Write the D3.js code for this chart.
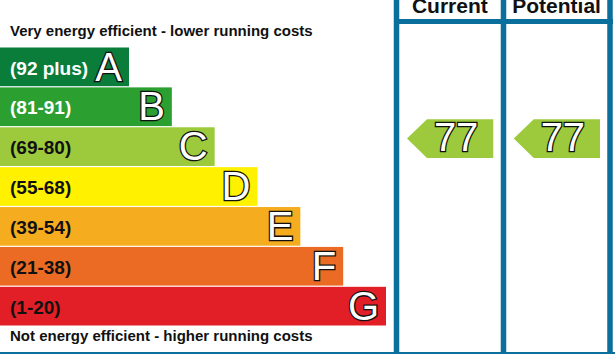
<!DOCTYPE html>
<html>
<head>
<meta charset="utf-8">
<script src="https://cdn.jsdelivr.net/npm/d3@7"></script>
<style>
  body { margin: 0; background: #fff; }
  svg { display: block; font-family: "Liberation Sans", Arial, sans-serif; }
</style>
</head>
<body>
<div id="chart"></div>
<script>
// band data
var bands      = ["A", "B", "C", "D", "E", "F", "G"];
var ranges     = ["(92 plus)", "(81-91)", "(69-80)", "(55-68)", "(39-54)", "(21-38)", "(1-20)"];
var bandMin    = [92, 81, 69, 55, 39, 21, 1];
var colors     = ["#0b7d3b", "#2b9f2f", "#9cca3c", "#fff100", "#f6ac1f", "#eb6b24", "#e21f26"];
var labelColor = ["#fff", "#fff", "#111", "#111", "#111", "#111", "#111"];
var columns    = ["Current", "Potential"];
var ratings    = [77, 77];

var width  = 615;
var height = 354;
var blue   = "#0b6f9c";

var svg = d3.select("#chart")
    .append("svg")
    .attr("width", width)
    .attr("height", height);

// scales
var y_scale = d3.scaleBand()
    .domain(bands)
    .range([47.5, 325.5])
    .paddingInner(0.03);

var w_scale = d3.scaleLinear()
    .domain([0, bands.length - 1])
    .range([129, 386]);

var col_scale = d3.scaleBand()
    .domain(columns)
    .range([396.5, 610])
    .paddingInner(0);

// top / bottom captions
svg.append("text")
    .attr("x", 10)
    .attr("y", 35.5)
    .style("font-size", "15px")
    .style("font-weight", "bold")
    .attr("fill", "#111")
    .text("Very energy efficient - lower running costs");

svg.append("text")
    .attr("x", 10)
    .attr("y", 340.5)
    .style("font-size", "15px")
    .style("font-weight", "bold")
    .attr("fill", "#111")
    .text("Not energy efficient - higher running costs");

// bars
var rows = svg.selectAll(".band")
    .data(bands)
    .enter()
    .append("g")
    .attr("class", "band");

rows.append("rect")
    .attr("x", 0)
    .attr("y", function(d) { return y_scale(d); })
    .attr("width", function(d, i) { return w_scale(i); })
    .attr("height", y_scale.bandwidth())
    .attr("fill", function(d, i) { return colors[i]; });

rows.append("text")
    .attr("x", 10)
    .attr("y", function(d) { return y_scale(d) + 27; })
    .style("font-size", "19px")
    .style("font-weight", "bold")
    .attr("fill", function(d, i) { return labelColor[i]; })
    .text(function(d, i) { return ranges[i]; });

rows.append("text")
    .attr("x", function(d, i) { return w_scale(i) - 7; })
    .attr("y", function(d) { return y_scale(d) + 33; })
    .attr("text-anchor", "end")
    .style("font-size", "40px")
    .attr("fill", "#fff")
    .attr("stroke", "#111")
    .attr("stroke-width", 2.6)
    .attr("paint-order", "stroke")
    .text(function(d) { return d; });

// rating arrows
function bandOf(r) {
    for (var i = 0; i < bandMin.length; i++) {
        if (r >= bandMin[i]) return i;
    }
    return bandMin.length - 1;
}

columns.forEach(function(c, k) {
    var bi = bandOf(ratings[k]);
    var top = y_scale(bands[bi]) - 8;
    var h = y_scale.bandwidth();
    var x0 = col_scale(c) + 10.5;
    var x1 = col_scale(c) + col_scale.bandwidth() - 10;
    var g = svg.append("g");
    g.append("path")
        .attr("d", d3.line()([
            [x0, top + h / 2],
            [x0 + 20, top],
            [x1, top],
            [x1, top + h],
            [x0 + 20, top + h]
        ]))
        .attr("fill", colors[bi]);
    g.append("text")
        .attr("x", (x0 + 20 + x1) / 2 - 4)
        .attr("y", top + 32)
        .attr("text-anchor", "middle")
        .style("font-size", "40px")
        .attr("fill", "#fff")
        .attr("stroke", "#111")
        .attr("stroke-width", 2.6)
        .attr("paint-order", "stroke")
        .text(ratings[k]);
});

// frame lines
var xs = [396.5, 503.5, 610];
svg.selectAll(".vline")
    .data(xs)
    .enter()
    .append("line")
    .attr("x1", function(d) { return d; })
    .attr("x2", function(d) { return d; })
    .attr("y1", 0)
    .attr("y2", height)
    .attr("stroke", blue)
    .attr("stroke-width", 5.5);

svg.append("line")
    .attr("x1", 394)
    .attr("x2", 613)
    .attr("y1", 21.5)
    .attr("y2", 21.5)
    .attr("stroke", blue)
    .attr("stroke-width", 5);

svg.append("line")
    .attr("x1", 0)
    .attr("x2", width)
    .attr("y1", 353)
    .attr("y2", 353)
    .attr("stroke", blue)
    .attr("stroke-width", 2);

// column headers (cut by the top edge, as in the original)
svg.selectAll(".colhead")
    .data(columns)
    .enter()
    .append("text")
    .attr("x", function(d) { return col_scale(d) + col_scale.bandwidth() / 2; })
    .attr("y", 13)
    .attr("text-anchor", "middle")
    .style("font-size", "21px")
    .style("font-weight", "bold")
    .attr("fill", "#111")
    .text(function(d) { return d; });
</script>
</body>
</html>
